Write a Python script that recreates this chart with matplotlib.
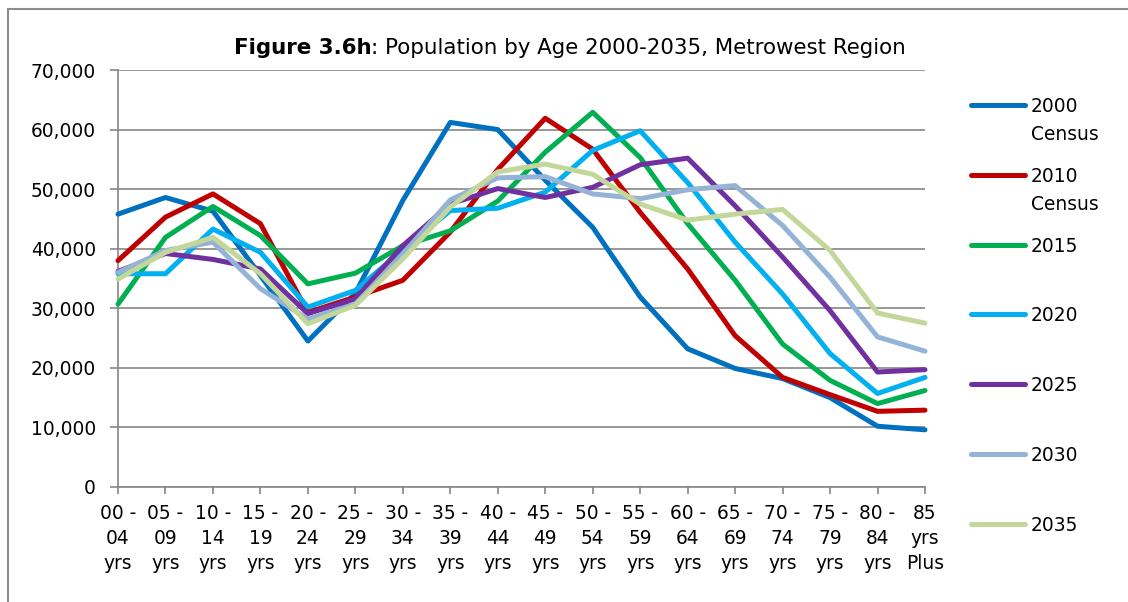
import numpy as np
import matplotlib.pyplot as plt
from matplotlib.lines import Line2D
from matplotlib.ticker import FuncFormatter

W, H = 1128, 602

age_groups = ["00 -\n04\nyrs", "05 -\n09\nyrs", "10 -\n14\nyrs", "15 -\n19\nyrs",
              "20 -\n24\nyrs", "25 -\n29\nyrs", "30 -\n34\nyrs", "35 -\n39\nyrs",
              "40 -\n44\nyrs", "45 -\n49\nyrs", "50 -\n54\nyrs", "55 -\n59\nyrs",
              "60 -\n64\nyrs", "65 -\n69\nyrs", "70 -\n74\nyrs", "75 -\n79\nyrs",
              "80 -\n84\nyrs", "85\nyrs\nPlus"]

series_labels = ["2000\nCensus", "2010\nCensus", "2015", "2020", "2025", "2030", "2035"]
series_colors = ["#0070C0", "#C00000", "#00B050", "#00B0F0", "#7030A0", "#95B3D7", "#C4D79B"]

pop_2000 = [45800, 48600, 46300, 35500, 24500, 32500, 48100, 61200, 60000,
            51500, 43600, 31900, 23200, 19900, 18200, 15000, 10200, 9600]
pop_2010 = [38000, 45300, 49200, 44200, 29300, 31900, 34700, 42800, 53300,
            61900, 56700, 46100, 36600, 25400, 18400, 15500, 12700, 12900]
pop_2015 = [30700, 41900, 47100, 42200, 34100, 35900, 40500, 43000, 48000,
            56200, 62900, 55300, 44200, 34700, 24000, 17900, 14000, 16200]
pop_2020 = [35800, 35800, 43300, 39400, 30200, 33000, 39800, 46400, 46800,
            49500, 56500, 59800, 51100, 41100, 32400, 22400, 15700, 18400]
pop_2025 = [36200, 39200, 38200, 36600, 29100, 31600, 40500, 47500, 50100,
            48600, 50300, 54100, 55200, 47200, 38600, 29600, 19300, 19700]
pop_2030 = [36000, 39700, 41100, 33300, 28200, 30700, 39100, 48200, 51900,
            52100, 49200, 48400, 49900, 50600, 43900, 35200, 25200, 22800]
pop_2035 = [34900, 39400, 41900, 35800, 27400, 30500, 38300, 47000, 52900,
            54200, 52500, 47500, 44800, 45800, 46600, 39700, 29200, 27500]

series = [pop_2000, pop_2010, pop_2015, pop_2020, pop_2025, pop_2030, pop_2035]

grid_grey = "#868686"
plt.rcParams["font.family"] = "DejaVu Sans"

fig = plt.figure(figsize=(W / 100, H / 100), dpi=100)


def fx(px):
    return px / W


def fy(py):
    return 1 - py / H


ax = fig.add_axes([fx(118), fy(487), fx(925) - fx(118), fy(70) - fy(487)])

x = np.arange(len(age_groups))
for vals, lab, col in zip(series, series_labels, series_colors):
    ax.plot(x, vals, color=col, lw=3.6, label=lab, clip_on=False,
            solid_capstyle="round", zorder=3)

ax.set_xlim(0, len(age_groups) - 1)
ax.set_ylim(0, 70000)
ax.set_yticks(np.arange(0, 70001, 10000))
ax.yaxis.set_major_formatter(FuncFormatter(lambda v, p: f"{int(v):,}"))
ax.set_xticks(x)
ax.set_xticklabels(age_groups, linespacing=1.42)

ax.grid(axis="y", color=grid_grey, lw=1.2, zorder=0)
ax.set_axisbelow(True)
for side in ["top", "right"]:
    ax.spines[side].set_visible(False)
for side in ["left", "bottom"]:
    ax.spines[side].set_color(grid_grey)
    ax.spines[side].set_linewidth(1.2)

ax.tick_params(axis="y", direction="out", length=6, width=1.2, color=grid_grey,
               labelsize=13.4, pad=10)
ax.tick_params(axis="x", direction="out", length=5, width=1.2, color=grid_grey,
               labelsize=13.4, pad=7)

# legend drawn by hand so two-line labels sit next to their first line
leg_y = [105, 175, 245, 314, 384, 454, 524]
for py, lab, col in zip(leg_y, series_labels, series_colors):
    fig.add_artist(Line2D([fx(971), fx(1025)], [fy(py), fy(py)], color=col, lw=3.6,
                          solid_capstyle="round"))
    fig.text(fx(1031), fy(py - 8), lab, fontsize=13.4, va="top", ha="left",
             linespacing=1.6)

# title: bold figure number followed by plain text
renderer = fig.canvas.get_renderer()
t1 = fig.text(0, fy(54), "Figure 3.6h", fontsize=15.4, fontweight="bold", va="baseline")
t2 = fig.text(0, fy(54), ": Population by Age 2000-2035, Metrowest Region", fontsize=15.4,
              va="baseline")
w1 = t1.get_window_extent(renderer).width
w2 = t2.get_window_extent(renderer).width
start = 570 - (w1 + w2) / 2
t1.set_x(fx(start))
t2.set_x(fx(start + w1))

# chart frame
fig.add_artist(Line2D([fx(8), fx(8)], [0, fy(9)], color="#8C8C8C", lw=1.5))
fig.add_artist(Line2D([fx(8), 1], [fy(9), fy(9)], color="#8C8C8C", lw=1.5))

fig.savefig("out.png", dpi=100)
